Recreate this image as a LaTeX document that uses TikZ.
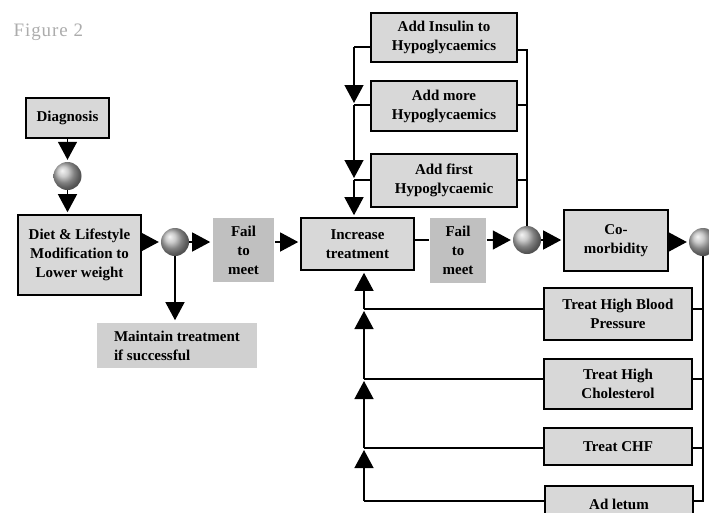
\documentclass[tikz,border=0pt]{standalone}
\usepackage{fontspec}
\setmainfont{Liberation Serif}
\usepackage{tikz}
\usetikzlibrary{arrows.meta, positioning}
\definecolor{boxfill}{RGB}{216,216,216}
\definecolor{failfill}{RGB}{192,192,192}
\definecolor{keepfill}{RGB}{208,208,208}
\definecolor{ballgrey}{RGB}{185,185,185}

\begin{document}
\begin{tikzpicture}[x=1pt, y=-1pt,
    box/.style={rectangle, draw=black, line width=1.6pt, fill=boxfill, align=center,
                inner sep=0pt, font=\fontsize{15}{19}\selectfont\bfseries},
    failbox/.style={box, draw=none, fill=failfill},
    keepbox/.style={box, draw=none, fill=keepfill},
    ball/.style={circle, minimum size=28pt, inner sep=0pt, shading=ball, ball color=ballgrey},
    ar/.style={-{Triangle[length=18pt, width=19pt]}, line width=1.3pt, shorten >=2pt},
    ln/.style={line width=1.3pt}
]
\useasboundingbox (0,0) rectangle (709,512);
\clip (0,0) rectangle (709,512);
\node[anchor=west, text=gray!65, font=\fontsize{19}{22}\selectfont\addfontfeatures{LetterSpace=5}] (fig) at (10,32) {Figure 2};

% first line of treatment
\node[box, minimum width=83pt, minimum height=40pt] (diag) at (67.5,118) {Diagnosis};
\node[ball] (b0) at (67.5,176) {};
\node[box, minimum width=123pt, minimum height=80pt] (diet) at (79.5,255) {Diet \& Lifestyle\\Modification to\\Lower weight};
\node[ball] (b1) at (175,242) {};
\node[failbox, minimum width=61pt, minimum height=64pt] (fail1) at (243.5,250) {Fail\\to\\meet};
\node[keepbox, minimum width=160pt, minimum height=45pt, align=left] (keep) at (177,345.5) {Maintain treatment\\if successful};
\node[box, minimum width=113pt, minimum height=52pt] (incr) at (357.5,244) {Increase\\treatment};
\node[failbox, minimum width=56pt, minimum height=65pt] (fail2) at (458,250.5) {Fail\\to\\meet};
\node[ball] (b2) at (527,240) {};

% hypoglycaemics
\node[box, minimum width=146pt, minimum height=49pt] (ins) at (444,37.5) {Add Insulin to\\Hypoglycaemics};
\node[box, minimum width=146pt, minimum height=50pt] (more) at (444,106) {Add more\\Hypoglycaemics};
\node[box, minimum width=146pt, minimum height=53pt] (first) at (444,180.5) {Add first\\Hypoglycaemic};

% co-morbidity
\node[box, minimum width=104pt, minimum height=61pt] (comorb) at (616,240.5) {Co-\\morbidity};
\node[ball] (b3) at (703,242) {};
\node[box, minimum width=148pt, minimum height=52pt] (hbp) at (618,314) {Treat High Blood\\Pressure};
\node[box, minimum width=148pt, minimum height=50pt] (chol) at (618,384) {Treat High\\Cholesterol};
\node[box, minimum width=148pt, minimum height=37pt] (chf) at (618,446.5) {Treat CHF};
\node[box, minimum width=148pt, minimum height=36pt] (letum) at (619,504) {Ad letum};

% junctions
\coordinate (tl0) at (354,47);
\coordinate (tl1) at (354,105);
\coordinate (tl2) at (354,180);
\coordinate (tr0) at (527,50);
\coordinate (tr1) at (527,105);
\coordinate (tr2) at (527,180);
\coordinate (bl1) at (364,309);
\coordinate (bl2) at (364,379);
\coordinate (bl3) at (364,448);
\coordinate (bl4) at (364,501);
\coordinate (br1) at (703,309);
\coordinate (br2) at (703,379);
\coordinate (br3) at (703,448);
\coordinate (br4) at (703,501);

\draw[ar] (diag.south) -- (b0);
\draw[ar] (b0) -- (b0 |- diet.north);
\draw[ar] (diet.east |- b1) -- (b1);
\draw[ar] (b1) -- (fail1.west |- b1);
\draw[ar] (b1) -- (b1 |- keep.north);
\draw[ar] (fail1.east |- b1) -- (incr.west |- b1);
\draw[ln] (incr.east |- b2) -- (fail2.west |- b2);
\draw[ar] (fail2.east |- b2) -- (b2);
\draw[ar] (b2) -- (comorb.west |- b2);
\draw[ar] (comorb.east |- b3) -- (b3);

\draw[ln] (b2) -- (tr0) -- (ins.east |- tr0);
\draw[ln] (more.east |- tr1) -- (tr1);
\draw[ln] (first.east |- tr2) -- (tr2);
\draw[ln] (ins.west |- tl0) -- (tl0);
\draw[ln] (more.west |- tl1) -- (tl1);
\draw[ln] (first.west |- tl2) -- (tl2);
\draw[ar] (tl0) -- (tl1);
\draw[ar] (tl1) -- (tl2);
\draw[ar] (tl2) -- (tl2 |- incr.north);

\draw[ln] (b3) -- (br4) -- (letum.east |- br4);
\draw[ln] (hbp.east |- br1) -- (br1);
\draw[ln] (chol.east |- br2) -- (br2);
\draw[ln] (chf.east |- br3) -- (br3);
\draw[ln] (letum.west |- bl4) -- (bl4);
\draw[ln] (hbp.west |- bl1) -- (bl1);
\draw[ln] (chol.west |- bl2) -- (bl2);
\draw[ln] (chf.west |- bl3) -- (bl3);
\draw[ar] (bl4) -- (bl3);
\draw[ar] (bl3) -- (bl2);
\draw[ar] (bl2) -- (bl1);
\draw[ar] (bl1) -- (bl1 |- incr.south);
\end{tikzpicture}
\end{document}
